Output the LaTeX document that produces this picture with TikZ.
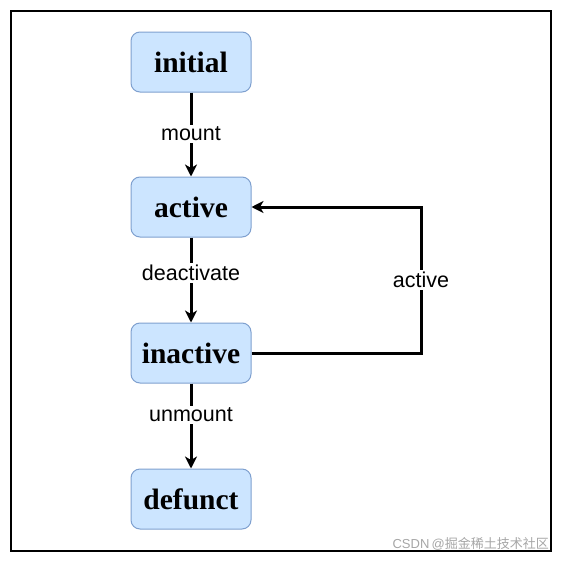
\documentclass[tikz,border=0pt]{standalone}
\usepackage{fontspec}
\setmainfont{Liberation Serif}
\newfontfamily\labfont{Liberation Sans}
\newfontfamily\cjkfont{Noto Sans CJK SC}
\usetikzlibrary{arrows.meta}
\definecolor{boxfill}{HTML}{CCE5FF}
\definecolor{boxline}{HTML}{7FA0CF}
\begin{document}
\begin{tikzpicture}[x=1pt,y=-1pt,
  state/.style={draw=boxline,fill=boxfill,line width=1pt,rounded corners=9pt,
    minimum width=120pt,minimum height=60pt,inner sep=0pt,
    font=\fontsize{29.5}{30}\selectfont\bfseries},
  conn/.style={line width=3pt,-{Stealth[length=12pt,width=12pt,inset=3.5pt]}},
  lab/.style={fill=white,inner sep=2pt,font=\labfont\fontsize{21.5}{22}\selectfont}]
\useasboundingbox (0,0) rectangle (562,562);
\draw[line width=1.8pt] (11,11) rectangle (551,551);
\node[state] (initial) at (191,62) {initial};
\node[state] (active) at (191,207) {active};
\node[state] (inactive) at (191,353) {inactive};
\node[state] (defunct) at (191,499) {defunct};
\draw[conn] (initial) -- node[lab,pos=0.49]{mount} (active);
\draw[conn] (active) -- node[lab,pos=0.42]{deactivate} (inactive);
\draw[conn] (inactive) -- node[lab,pos=0.37]{unmount} (defunct);
\coordinate (c1) at (421,353);
\coordinate (c2) at (421,207);
\draw[conn] (inactive.east) -- (c1) -- node[lab,pos=0.5]{active} (c2) -- (active.east);
\node[text=gray!70,anchor=east,inner sep=0pt,font=\fontsize{13}{14}\selectfont] (wm) at (549,544) {\labfont CSDN\,@\cjkfont 掘金稀土技术社区};
\end{tikzpicture}
\end{document}
